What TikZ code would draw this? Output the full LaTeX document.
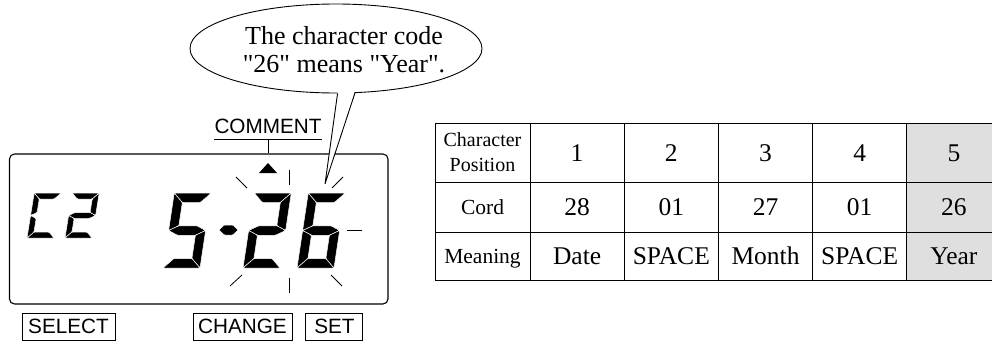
\documentclass[tikz,border=0pt]{standalone}
\usepackage{fontspec}
\setmainfont{Liberation Serif}
\setsansfont{Liberation Sans}
\usetikzlibrary{shapes.geometric, positioning, calc}

\definecolor{yearfill}{HTML}{DFDFDF}

\tikzset{
  lcdseg/.style={fill=black, draw=white, line width=0.5pt, rounded corners=1pt},
  lcdframe/.style={draw, line width=1.1pt, rounded corners=5pt, minimum width=378.5, minimum height=150, inner sep=0pt},
  lcdlabel/.style={inner sep=0pt, font=\sffamily\fontsize{20.7}{24}\selectfont},
  keybox/.style={draw, line width=0.9pt, inner sep=0pt, minimum height=27, font=\sffamily\fontsize{20.7}{24}\selectfont},
  blink/.style={line width=0.8pt},
  bubble/.style={ellipse, draw, line width=0.9pt, minimum width=292, minimum height=89, inner sep=0pt},
  bubbletext/.style={align=center, inner sep=0pt, font=\fontsize{26}{28}\selectfont},
  cellbase/.style={draw, line width=0.9pt, inner sep=0pt, font=\fontsize{25.5}{28}\selectfont},
  cell/.style={cellbase, minimum width=94.2, text height=17pt, text depth=0pt},
  headcell/.style={cellbase, minimum width=95, align=center}
}

% 七段数码: x, y, 宽, 高, 笔画粗细, 倾斜, 段列表
\newcommand{\lcddigit}[7]{%
  \begin{scope}[shift={(#1,#2)}, xslant=#6]
    \def\dgW{#3}\def\dgH{#4}\def\dgT{#5}
    \foreach \s in {#7}{\csname lcdseg\s\endcsname}
  \end{scope}}
\newcommand{\lcdsega}{\filldraw[lcdseg] (0,\dgH) -- (\dgW,\dgH) -- ({\dgW-\dgT},{\dgH-\dgT}) -- (\dgT,{\dgH-\dgT}) -- cycle;}
\newcommand{\lcdsegb}{\filldraw[lcdseg] (\dgW,\dgH) -- (\dgW,{\dgH/2}) -- ({\dgW-\dgT},{\dgH/2+\dgT/2}) -- ({\dgW-\dgT},{\dgH-\dgT}) -- cycle;}
\newcommand{\lcdsegc}{\filldraw[lcdseg] (\dgW,{\dgH/2}) -- (\dgW,0) -- ({\dgW-\dgT},\dgT) -- ({\dgW-\dgT},{\dgH/2-\dgT/2}) -- cycle;}
\newcommand{\lcdsegd}{\filldraw[lcdseg] (0,0) -- (\dgW,0) -- ({\dgW-\dgT},\dgT) -- (\dgT,\dgT) -- cycle;}
\newcommand{\lcdsege}{\filldraw[lcdseg] (0,0) -- (0,{\dgH/2}) -- (\dgT,{\dgH/2-\dgT/2}) -- (\dgT,\dgT) -- cycle;}
\newcommand{\lcdsegf}{\filldraw[lcdseg] (0,\dgH) -- (0,{\dgH/2}) -- (\dgT,{\dgH/2+\dgT/2}) -- (\dgT,{\dgH-\dgT}) -- cycle;}
\newcommand{\lcdsegg}{\filldraw[lcdseg] (0,{\dgH/2}) -- (\dgT,{\dgH/2+\dgT/2}) -- ({\dgW-\dgT},{\dgH/2+\dgT/2}) -- (\dgW,{\dgH/2}) -- ({\dgW-\dgT},{\dgH/2-\dgT/2}) -- (\dgT,{\dgH/2-\dgT/2}) -- cycle;}

\begin{document}
\begin{tikzpicture}[x=1pt, y=1pt]
    \useasboundingbox (0,0) rectangle (992,341);

    % 1. 液晶屏外框
    \node[lcdframe] (lcd) at (198.75,112) {};

    % 2. 左侧 "C2"
    \lcddigit{27}{103}{27}{45}{6}{0.16}{a,d,e,f}
    \lcddigit{65}{103}{27}{45}{6}{0.16}{a,b,g,e,d}

    % 右侧 "5-26"
    \lcddigit{163}{73}{37}{75}{9.5}{0.15}{a,f,g,c,d}
    \filldraw[lcdseg] (219,111) -- (224,116) -- (233,116) -- (238,111) -- (233,106) -- (224,106) -- cycle;
    \lcddigit{243}{73}{37}{75}{9.5}{0.15}{a,b,g,e,d}
    \lcddigit{297}{73}{37}{75}{9.5}{0.15}{a,f,g,e,d,c}

    % 3. 闪烁标记
    \foreach \xa/\ya/\xb/\yb in {247/153/236/164, 289/156/289/171, 332/153/343/164, 347/111/362/111,
                                 242/66/230/55, 289/63/289/48, 331/66/342/55}
        \draw[blink] (\xa,\ya) -- (\xb,\yb);

    % 4. COMMENT 标签与三角指示
    \node[lcdlabel, anchor=base] (comment) at (268,208) {COMMENT};
    \draw[line width=0.8pt] ([yshift=-6pt]comment.base west) -- ([yshift=-6pt]comment.base east);
    \draw[line width=0.8pt] ([yshift=-6pt]comment.base) -- (comment.base |- lcd.north);
    \fill (259,168) -- (268,178) -- (277,168) -- cycle;

    % 5. 按键
    \node[keybox, minimum width=93] (select) at (68.5,14.5) {SELECT};
    \node[keybox, minimum width=99] (change) at (242.5,14.5) {CHANGE};
    \node[keybox, minimum width=57, right=13pt of change] (set) {SET};

    % 6. 对话气泡
    \node[bubble] (bubble) at (336,292.5) {};
    \node[bubbletext] (note) at (344,291) {The character code\\\textquotedbl 26\textquotedbl{} means \textquotedbl Year\textquotedbl.};
    \coordinate (tip) at (325,157);
    \fill[white] ($(bubble.-88)+(0,2)$) -- ($(bubble.-67)+(0,2)$) -- (tip) -- cycle;
    \draw[line width=0.9pt] (bubble.-88) -- (tip) -- (bubble.-67);

    % 7. 字符代码表
    \node[headcell, minimum height=59, font=\fontsize{20}{25}\selectfont] (head-1) at (482.5,188.5) {Character\\Position};
    \node[headcell, minimum height=50, text height=14.5pt, text depth=0pt, font=\fontsize{21.5}{25}\selectfont] (head-2) at (482.5,134) {Cord};
    \node[headcell, minimum height=48, text height=14.5pt, text depth=0pt, font=\fontsize{21.5}{25}\selectfont] (head-3) at (482.5,85) {Meaning};

    \foreach \r/\ypos/\rowh/\vals in {1/188.5/59/{1,2,3,4,5}, 2/134/50/{28,01,27,01,26},
                                      3/85/48/{Date,SPACE,Month,SPACE,Year}}
    {
        \foreach \val [count=\c] in \vals
        {
            % 第 5 列 (Year) 灰底
            \ifnum\c=5
                \node[cell, fill=yearfill, minimum height=\rowh] (cell-\r-\c) at ({482.9+94.2*\c},\ypos) {\val};
            \else
                \node[cell, minimum height=\rowh] (cell-\r-\c) at ({482.9+94.2*\c},\ypos) {\val};
            \fi
        }
    }

\end{tikzpicture}
\end{document}
